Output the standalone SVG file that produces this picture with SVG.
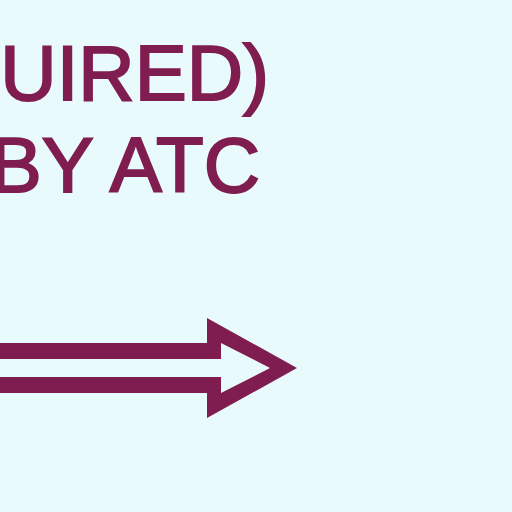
<svg xmlns="http://www.w3.org/2000/svg" width="512" height="512" viewBox="0 0 512 512">
<style>
.t{font-family:"Liberation Sans",Arial,sans-serif;font-size:78px;fill:#801D50;stroke:#801D50;stroke-width:2;text-anchor:end}
.a{fill:#801D50;fill-rule:evenodd}
</style>
<rect width="512" height="512" fill="#E8FAFC"/>
<g id="label">
<text class="t" x="269" y="100">QUIRED)</text>
<text class="t" x="260" y="192">BY ATC</text>
</g>
<g id="connectors">
<path class="a" d="M-5,343 H207 V318 L297,368 L207,418 V393 H-5 Z M-5,359 H221 V343 L270,368 L221,393 V377 H-5 Z"/>
</g>
</svg>
